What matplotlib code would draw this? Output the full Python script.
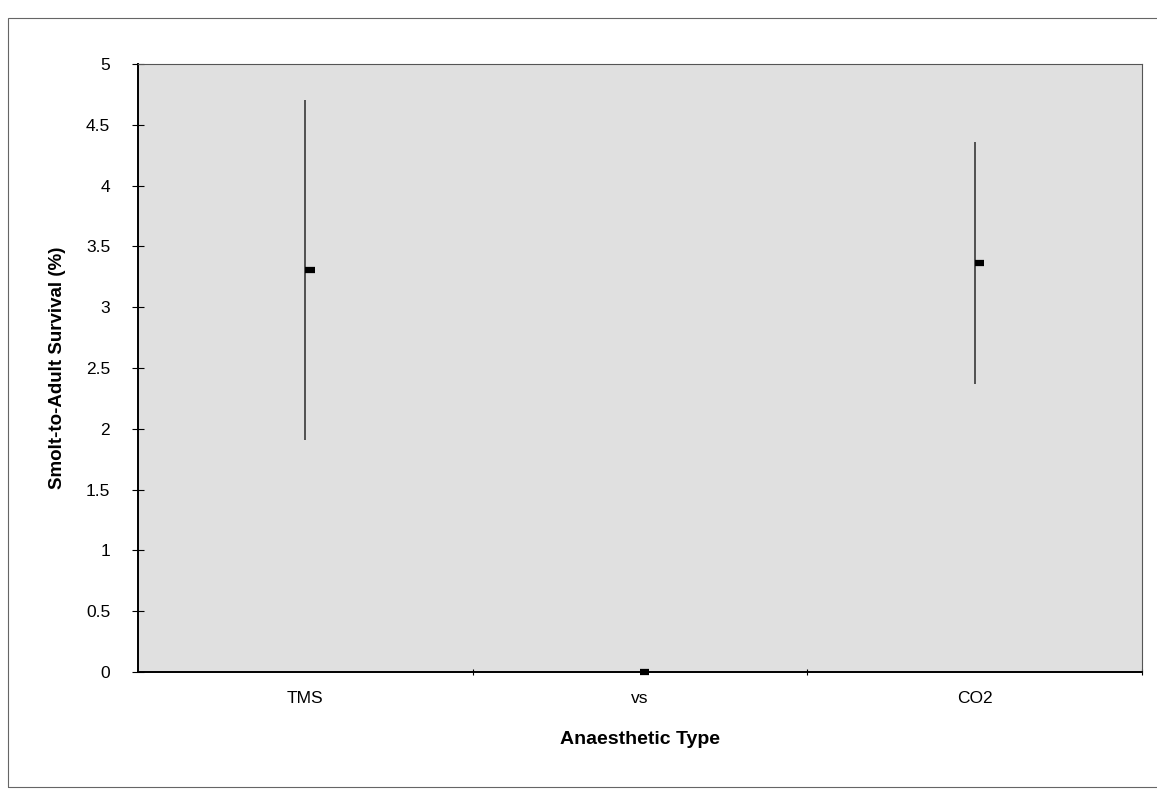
import numpy as np
import matplotlib.pyplot as plt
from matplotlib.patches import Rectangle

plt.rcParams['font.family'] = ['Liberation Sans', 'DejaVu Sans']

anaesthetic = ['TMS', 'vs', 'CO2']
survival_mean = [3.31, 0.0, 3.36]
survival_low = [1.91, 0.0, 2.37]
survival_high = [4.70, 0.0, 4.36]

fig = plt.figure(figsize=(11.57, 7.91), dpi=100)
# outer chart frame
fig.patches.append(Rectangle((8 / 1157, 4 / 791), 1160 / 1157, 769 / 791,
                             transform=fig.transFigure, fill=False,
                             edgecolor='#666666', linewidth=0.8))
ax = fig.add_axes([138 / 1157, 1 - 672 / 791, 1004 / 1157, 608 / 791])
ax.set_facecolor('#e0e0e0')

x = np.arange(len(anaesthetic))
ax.vlines(x, survival_low, survival_high, color='#2a2a2a', linewidth=1.1)
# mean shown as a short thick dash to the right of the range line
ax.hlines(survival_mean, x, x + 0.028, color='black', linewidth=4.5,
          zorder=4, clip_on=False)

ax.set_xlim(-0.5, 2.5)
ax.set_ylim(0, 5)
ax.set_yticks(np.arange(0, 5.01, 0.5))
ax.set_yticklabels(['0', '0.5', '1', '1.5', '2', '2.5', '3', '3.5', '4', '4.5', '5'])
ax.set_xticks(x)
ax.set_xticklabels(anaesthetic)
ax.set_xticks([0.5, 1.5, 2.5], minor=True)
ax.tick_params(axis='x', which='major', length=0, pad=14, labelsize=12.5)
ax.tick_params(axis='x', which='minor', length=5, direction='inout', width=0.8)
ax.tick_params(axis='y', length=8, direction='inout', width=0.8, labelsize=12.5, pad=16)

for side in ['left', 'bottom']:
    ax.spines[side].set_linewidth(1.4)
for side in ['top', 'right']:
    ax.spines[side].set_linewidth(0.8)
    ax.spines[side].set_color('#555555')

ax.set_xlabel('Anaesthetic Type', fontsize=14, fontweight='bold', labelpad=18)
ax.set_ylabel('Smolt-to-Adult Survival (%)', fontsize=13.5, fontweight='bold')
ax.yaxis.set_label_coords(-72 / 1004, 0.5)

fig.savefig('out.png', dpi=100)
